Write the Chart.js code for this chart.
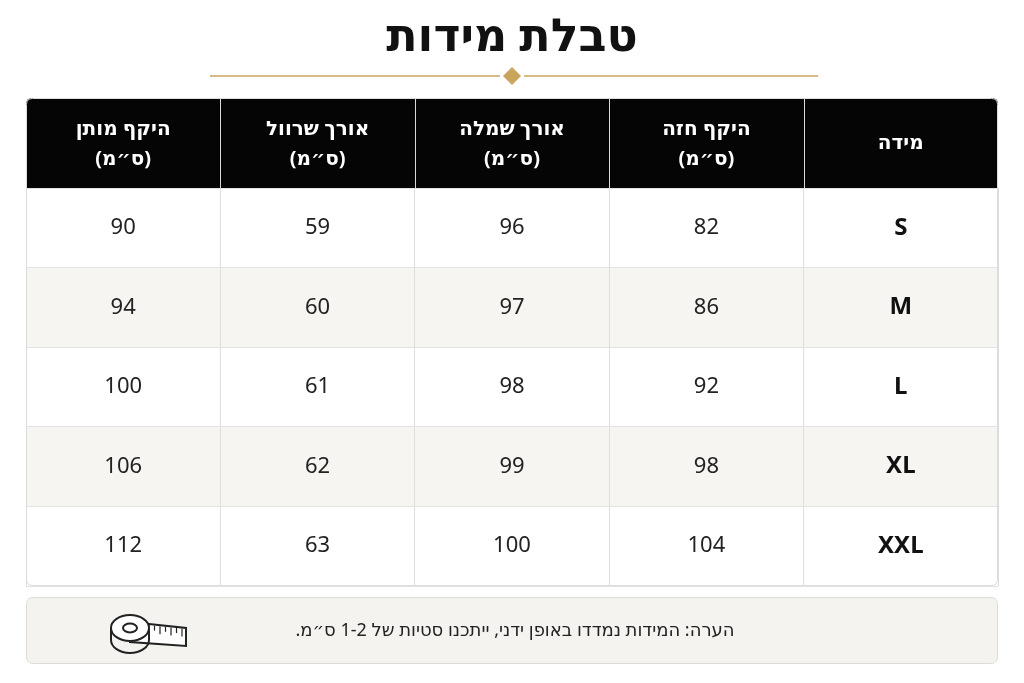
<!DOCTYPE html>
<html lang="he" dir="rtl">
<head>
<meta charset="utf-8">
<script src="https://cdn.jsdelivr.net/npm/chart.js@4.4.1/dist/chart.umd.min.js"></script>
<style>
  html, body { margin: 0; padding: 0; background: #ffffff; }
  #wrap { position: relative; width: 1024px; height: 683px; }
</style>
</head>
<body>
<div id="wrap"><canvas id="sizes"></canvas></div>
<script>
// נתוני הטבלה
const title = "טבלת מידות";
const note = "הערה: המידות נמדדו באופן ידני, ייתכנו סטיות של 1-2 ס״מ.";
const sizes = ["S", "M", "L", "XL", "XXL"];
// עמודות משמאל לימין כפי שמופיעות בתמונה
const columns = ["waist", "sleeve", "dress", "chest", "size"];
const headers = [
    ["היקף מותן", "(ס״מ)"],
    ["אורך שרוול", "(ס״מ)"],
    ["אורך שמלה", "(ס״מ)"],
    ["היקף חזה", "(ס״מ)"],
    ["מידה"],
];
const chest = [82, 86, 92, 98, 104];
const dressLength = [96, 97, 98, 99, 100];
const sleeveLength = [59, 60, 61, 62, 63];
const waist = [90, 94, 100, 106, 112];

const FONT = "'Noto Sans', 'DejaVu Sans', sans-serif";

function roundRect(ctx, x, y, w, h, r) {
    // r = [tl, tr, br, bl]
    ctx.beginPath();
    ctx.moveTo(x + r[0], y);
    ctx.lineTo(x + w - r[1], y);
    ctx.quadraticCurveTo(x + w, y, x + w, y + r[1]);
    ctx.lineTo(x + w, y + h - r[2]);
    ctx.quadraticCurveTo(x + w, y + h, x + w - r[2], y + h);
    ctx.lineTo(x + r[3], y + h);
    ctx.quadraticCurveTo(x, y + h, x, y + h - r[3]);
    ctx.lineTo(x, y + r[0]);
    ctx.quadraticCurveTo(x, y, x + r[0], y);
    ctx.closePath();
}

function makeDataset(key, values) {
    return {
        label: key,
        data: values.map((v, i) => ({ x: key, y: sizes[i], v: v })),
        pointRadius: 0,
        showLine: false,
    };
}

// רקעים של השורות והכותרת - מצויר לפני הרשת
const tableBg = {
    id: "tableBg",
    beforeDraw(chart) {
        const { ctx, chartArea: a, scales } = chart;
        const step = scales.y.getPixelForValue(1) - scales.y.getPixelForValue(0);
        ctx.save();
        // כותרת ראשית
        ctx.fillStyle = "#111";
        ctx.font = "bold 46px " + FONT;
        ctx.textAlign = "center";
        ctx.textBaseline = "middle";
        ctx.direction = "rtl";
        ctx.fillText(title, 512, 38);
        ctx.strokeStyle = "#c9a55c";
        ctx.lineWidth = 1.5;
        ctx.beginPath();
        ctx.moveTo(210, 76); ctx.lineTo(500, 76);
        ctx.moveTo(524, 76); ctx.lineTo(818, 76);
        ctx.stroke();
        ctx.fillStyle = "#c9a55c";
        ctx.beginPath();
        ctx.moveTo(512, 67); ctx.lineTo(521, 76); ctx.lineTo(512, 85); ctx.lineTo(503, 76);
        ctx.closePath();
        ctx.fill();

        // גוף הטבלה
        roundRect(ctx, a.left, a.top, a.right - a.left, a.bottom - a.top, [0, 0, 6, 6]);
        ctx.fillStyle = "#fff";
        ctx.fill();
        sizes.forEach((s, i) => {
            if (i % 2 === 1) {
                const c = scales.y.getPixelForValue(i);
                ctx.fillStyle = "#f6f5f2";
                ctx.fillRect(a.left, c - step / 2, a.right - a.left, step);
            }
        });
        // רקע הכותרת
        roundRect(ctx, a.left, 98, a.right - a.left, a.top - 98, [6, 6, 0, 0]);
        ctx.fillStyle = "#050505";
        ctx.fill();
        ctx.restore();
    },
    afterDraw(chart) {
        const { ctx, chartArea: a, scales } = chart;
        ctx.save();
        ctx.direction = "rtl";
        ctx.textAlign = "center";
        ctx.textBaseline = "middle";
        // קווי הפרדה בכותרת
        ctx.strokeStyle = "#d9d9d9";
        ctx.lineWidth = 1;
        const stepX = scales.x.getPixelForValue(1) - scales.x.getPixelForValue(0);
        for (let i = 1; i < columns.length; i++) {
            const x = Math.round(scales.x.getPixelForValue(i) - stepX / 2) + 0.5;
            ctx.beginPath();
            ctx.moveTo(x, 98); ctx.lineTo(x, a.top);
            ctx.stroke();
        }
        // טקסט הכותרת
        ctx.fillStyle = "#fff";
        ctx.font = "bold 20px " + FONT;
        headers.forEach((lines, i) => {
            const x = scales.x.getPixelForValue(i);
            const mid = (98 + a.top) / 2;
            if (lines.length === 1) {
                ctx.fillText(lines[0], x, mid);
            } else {
                ctx.fillText(lines[0], x, mid - 14);
                ctx.fillText(lines[1], x, mid + 16);
            }
        });
        // ערכים
        chart.data.datasets.forEach((ds, di) => {
            const meta = chart.getDatasetMeta(di);
            meta.data.forEach((pt, i) => {
                const v = ds.data[i].v;
                if (ds.label === "size") {
                    ctx.fillStyle = "#111";
                    ctx.font = "bold 24px " + FONT;
                } else {
                    ctx.fillStyle = "#222";
                    ctx.font = "22px " + FONT;
                }
                ctx.fillText(String(v), pt.x, pt.y);
            });
        });
        // מסגרת חיצונית
        roundRect(ctx, a.left + 0.5, 98.5, a.right - a.left - 1, a.bottom - 98 - 1, [6, 6, 6, 6]);
        ctx.strokeStyle = "#dcdcdc";
        ctx.stroke();

        // תיבת הערה
        roundRect(ctx, a.left + 0.5, 597.5, a.right - a.left - 1, 66, [7, 7, 7, 7]);
        ctx.fillStyle = "#f4f3f0";
        ctx.fill();
        ctx.strokeStyle = "#dedbd5";
        ctx.stroke();
        ctx.fillStyle = "#222";
        ctx.font = "18px " + FONT;
        ctx.fillText(note, 515, 631);

        // אייקון סרט מדידה
        ctx.strokeStyle = "#222";
        ctx.lineWidth = 2;
        ctx.fillStyle = "#fff";
        ctx.beginPath();
        ctx.moveTo(130, 622); ctx.lineTo(186, 628); ctx.lineTo(186, 646); ctx.lineTo(130, 642);
        ctx.closePath();
        ctx.fill(); ctx.stroke();
        ctx.lineWidth = 1.2;
        for (let k = 0; k < 9; k++) {
            const x = 138 + k * 5.5;
            const y0 = 623 + (x - 130) * 6 / 56;
            ctx.beginPath();
            ctx.moveTo(x, y0); ctx.lineTo(x, y0 + (k % 2 ? 5 : 8));
            ctx.stroke();
        }
        ctx.lineWidth = 2;
        ctx.beginPath();
        ctx.ellipse(130, 628, 19, 13, 0, 0, Math.PI * 2);
        ctx.fill(); ctx.stroke();
        ctx.beginPath();
        ctx.moveTo(111, 628); ctx.lineTo(111, 640);
        ctx.ellipse(130, 640, 19, 13, 0, Math.PI, 0, true);
        ctx.lineTo(149, 628);
        ctx.stroke();
        ctx.beginPath();
        ctx.ellipse(130, 628, 7, 4.5, 0, 0, Math.PI * 2);
        ctx.stroke();
        ctx.restore();
    },
};

const canvas = document.getElementById("sizes");
canvas.chart = new Chart(canvas, {
    type: "line",
    data: {
        datasets: [
            makeDataset("waist", waist),
            makeDataset("sleeve", sleeveLength),
            makeDataset("dress", dressLength),
            makeDataset("chest", chest),
            makeDataset("size", sizes),
        ],
    },
    options: {
        responsive: true,
        maintainAspectRatio: false,
        animation: false,
        events: [],
        layout: { padding: { left: 26, right: 26, top: 188, bottom: 97 } },
        plugins: { legend: { display: false }, tooltip: { enabled: false } },
        scales: {
            x: {
                type: "category",
                labels: columns,
                offset: true,
                grid: { offset: true, color: "#dedede", drawTicks: false },
                border: { display: false },
                ticks: { display: false },
            },
            y: {
                type: "category",
                labels: sizes,
                offset: true,
                grid: { offset: true, color: "#e3e3e3", drawTicks: false },
                border: { display: false },
                ticks: { display: false },
            },
        },
    },
    plugins: [tableBg],
});
</script>
</body>
</html>
